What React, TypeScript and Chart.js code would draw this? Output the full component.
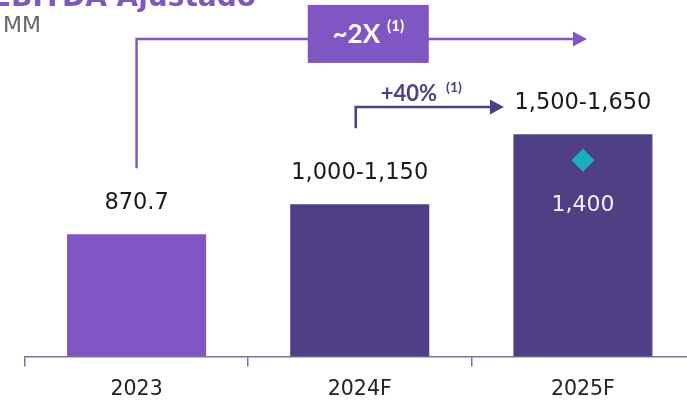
import { useEffect, useRef } from "react";
import { Chart, registerables } from "chart.js";

Chart.register(...registerables);

const categories = ["2023", "2024F", "2025F"];
const barValues = [870.7, 1085, 1585];
const barLabels = ["870.7", "1,000-1,150", "1,500-1,650"];
const barColors = ["#7F56C2", "#4F4085", "#4F4085"];
const diamondValues: (number | null)[] = [null, null, 1400];
const diamondLabels = ["", "", "1,400"];
const growthLong = { text: "~2X", note: "(1)" };
const growthShort = { text: "+40%", note: "(1)" };
const titleText = "EBITDA Ajustado";
const unitText = "US$ MM";

const LIGHT = "#7F56C2";
const DARK = "#4F4085";

function arrowHead(ctx: CanvasRenderingContext2D, tipX: number, y: number, len: number, half: number, color: string) {
  ctx.fillStyle = color;
  ctx.beginPath();
  ctx.moveTo(tipX, y);
  ctx.lineTo(tipX - len, y - half);
  ctx.lineTo(tipX - len, y + half);
  ctx.closePath();
  ctx.fill();
}

const annotationPlugin = {
  id: "annotations",
  afterDatasetsDraw(chart: any) {
    const ctx: CanvasRenderingContext2D = chart.ctx;
    const xs = chart.scales.x;
    const ys = chart.scales.y;
    const bars = chart.getDatasetMeta(0).data;
    const pts = chart.getDatasetMeta(1).data;
    ctx.save();

    // title + unit (partly cut off at the top/left)
    ctx.textBaseline = "alphabetic";
    ctx.textAlign = "right";
    ctx.fillStyle = LIGHT;
    ctx.font = 'bold 28px "DejaVu Sans"';
    ctx.fillText(titleText, 256, 6);
    ctx.fillStyle = "#666666";
    ctx.font = '22px "DejaVu Sans"';
    ctx.fillText(unitText, 41, 32);

    // bar value labels
    ctx.textAlign = "center";
    ctx.textBaseline = "middle";
    ctx.font = '22.5px "DejaVu Sans"';
    ctx.fillStyle = "#1a1a1a";
    bars.forEach((bar: any, i: number) => {
      ctx.fillText(barLabels[i], bar.x, bar.y - 31);
    });

    // diamond labels
    ctx.font = '22px "DejaVu Sans"';
    ctx.fillStyle = "#F2F0F8";
    pts.forEach((pt: any, i: number) => {
      if (diamondLabels[i] && pt && !pt.skip) ctx.fillText(diamondLabels[i], pt.x, pt.y + 45);
    });

    // long growth arrow (2023 -> 2025F)
    const x0 = xs.getPixelForValue(0);
    const x2 = xs.getPixelForValue(2);
    const x1 = xs.getPixelForValue(1);
    const lineY = ys.getPixelForValue(2265);
    ctx.strokeStyle = LIGHT;
    ctx.lineWidth = 2.5;
    ctx.beginPath();
    ctx.moveTo(x0, bars[0].y - 66);
    ctx.lineTo(x0, lineY);
    ctx.lineTo(x2 - 10, lineY);
    ctx.stroke();
    arrowHead(ctx, x2 + 4, lineY, 14, 7.5, LIGHT);

    const boxL = x1 - 52;
    const boxR = x1 + 69;
    ctx.fillStyle = LIGHT;
    ctx.fillRect(boxL, lineY - 34, boxR - boxL, 58);
    ctx.font = 'bold 26px Lato';
    const w1 = ctx.measureText(growthLong.text).width;
    ctx.font = 'bold 15px Lato';
    const w2 = ctx.measureText(growthLong.note).width;
    const gap = 7;
    const startX = (boxL + boxR) / 2 - (w1 + gap + w2) / 2;
    ctx.textAlign = "left";
    ctx.fillStyle = "#FFFFFF";
    ctx.font = 'bold 26px Lato';
    ctx.fillText(growthLong.text, startX, lineY - 4);
    ctx.font = 'bold 15px Lato';
    ctx.fillText(growthLong.note, startX + w1 + gap, lineY - 13);

    // short growth arrow (2024F -> 2025F)
    const sx = x1 - 4;
    const sY = ys.getPixelForValue(1780);
    ctx.strokeStyle = DARK;
    ctx.lineWidth = 2.5;
    ctx.beginPath();
    ctx.moveTo(sx, bars[1].y - 76);
    ctx.lineTo(sx, sY);
    ctx.lineTo(x2 - 90, sY);
    ctx.stroke();
    arrowHead(ctx, x2 - 79, sY, 14, 7.5, DARK);

    ctx.fillStyle = DARK;
    ctx.font = 'bold 22px Lato';
    const t1 = ctx.measureText(growthShort.text).width;
    ctx.fillText(growthShort.text, x1 + 21, sY - 13);
    ctx.font = 'bold 14px Lato';
    ctx.fillText(growthShort.note, x1 + 21 + t1 + 9, sY - 19);

    ctx.restore();
  },
};

export default function App() {
  const ref = useRef<HTMLCanvasElement | null>(null);
  useEffect(() => {
    if (!ref.current) return;
    const chart = new Chart(ref.current, {
      type: "bar",
      data: {
        labels: categories,
        datasets: [
          {
            type: "bar",
            data: barValues,
            backgroundColor: barColors,
            barPercentage: 0.623,
            categoryPercentage: 1,
            order: 2,
          },
          {
            type: "line",
            data: diamondValues,
            showLine: false,
            pointStyle: "rectRot",
            pointRadius: 11.5,
            pointBackgroundColor: "#1AAFBC",
            pointBorderWidth: 0,
            order: 1,
          } as any,
        ],
      },
      options: {
        animation: false,
        responsive: false,
        layout: { padding: { left: 25, right: 0, top: 20, bottom: 0 } },
        plugins: { legend: { display: false }, tooltip: { enabled: false } },
        scales: {
          x: {
            offset: true,
            grid: {
              display: true,
              drawOnChartArea: false,
              drawTicks: true,
              tickLength: 10,
              color: "#7A70A8",
              lineWidth: 1.5,
              offset: true,
            },
            border: { display: true, color: "#7A70A8", width: 1.5 },
            ticks: {
              color: "#222222",
              font: { family: "DejaVu Sans", size: 20.5 },
              padding: 11,
            },
          },
          y: {
            display: false,
            min: 0,
            max: 2400,
          },
        },
      },
      plugins: [annotationPlugin],
    });
    return () => chart.destroy();
  }, []);

  return (
    <div style={{ position: "absolute", left: 0, top: 0, width: 687, height: 405, overflow: "hidden", background: "#fff" }}>
      <canvas ref={ref} width={706} height={413} style={{ display: "block", width: 706, height: 413 }} />
    </div>
  );
}
